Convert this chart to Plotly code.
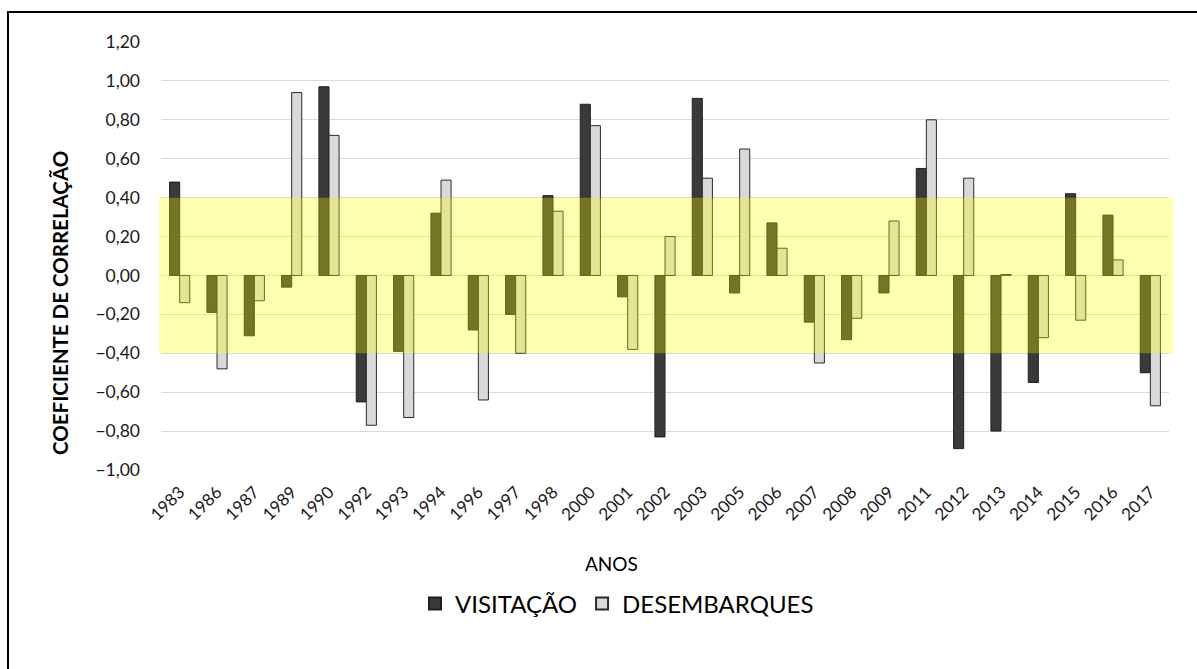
import plotly.graph_objects as go

anos = ["1983", "1986", "1987", "1989", "1990", "1992", "1993", "1994", "1996",
        "1997", "1998", "2000", "2001", "2002", "2003", "2005", "2006", "2007",
        "2008", "2009", "2011", "2012", "2013", "2014", "2015", "2016", "2017"]

visitacao = [0.48, -0.19, -0.31, -0.06, 0.97, -0.65, -0.39, 0.32, -0.28,
             -0.20, 0.41, 0.88, -0.11, -0.83, 0.91, -0.09, 0.27, -0.24,
             -0.33, -0.09, 0.55, -0.89, -0.80, -0.55, 0.42, 0.31, -0.50]
desembarques = [-0.14, -0.48, -0.13, 0.94, 0.72, -0.77, -0.73, 0.49, -0.64,
                -0.40, 0.33, 0.77, -0.38, 0.20, 0.50, 0.65, 0.14, -0.45,
                -0.22, 0.28, 0.80, 0.50, 0.005, -0.32, -0.23, 0.08, -0.67]

y_ticks = [-1.0, -0.8, -0.6, -0.4, -0.2, 0.0, 0.2, 0.4, 0.6, 0.8, 1.0, 1.2]
faixa = (-0.40, 0.40)

W, H = 1197, 669
L, R, T, B = 161, 28, 42, 199
pw, ph = W - L - R, H - T - B


def px_x(v):
    return (v - L) / pw


def px_y(v):
    return (H - B - v) / ph


FONT = "Lato"
TXT = "#1a1a1a"

fig = go.Figure()
fig.add_trace(go.Bar(
    x=anos, y=visitacao, name="VISITAÇÃO",
    marker=dict(color="#3a3a3a", line=dict(color="#1e1e1e", width=1)),
))
fig.add_trace(go.Bar(
    x=anos, y=desembarques, name="DESEMBARQUES",
    marker=dict(color="#d9d9d9", line=dict(color="#2a2a2a", width=1)),
))

# translucent band marking weak correlation
fig.add_shape(type="rect", xref="paper", yref="y",
              x0=px_x(159), x1=px_x(1173), y0=faixa[0], y1=faixa[1],
              fillcolor="rgba(255,255,0,0.30)", line=dict(width=0), layer="above")

# outer frame: top and left edges
fig.add_shape(type="line", xref="paper", yref="paper",
              x0=px_x(7), x1=px_x(W + 5), y0=px_y(12), y1=px_y(12),
              line=dict(color="black", width=2))
fig.add_shape(type="line", xref="paper", yref="paper",
              x0=px_x(8), x1=px_x(8), y0=px_y(12), y1=px_y(H + 5),
              line=dict(color="black", width=2))

fig.add_annotation(text="<b>COEFICIENTE DE CORRELAÇÃO</b>", textangle=-90,
                   xref="paper", yref="paper", x=px_x(60), y=px_y(303),
                   showarrow=False, font=dict(family=FONT, size=20.5, color="black"),
                   xanchor="center", yanchor="middle")
fig.add_annotation(text="ANOS", xref="paper", yref="paper",
                   x=px_x(611), y=px_y(563), showarrow=False,
                   font=dict(family=FONT, size=19, color="black"),
                   xanchor="center", yanchor="middle")

fig.update_layout(
    width=W, height=H,
    margin=dict(l=L, r=R, t=T, b=B),
    paper_bgcolor="white", plot_bgcolor="white",
    barmode="group", bargap=0.46, bargroupgap=0.0,
    separators=",.",
    font=dict(family=FONT, color=TXT),
    legend=dict(orientation="h", x=px_x(617), y=px_y(604),
                xanchor="center", yanchor="middle",
                font=dict(family=FONT, size=24, color="black"),
                itemsizing="constant", bgcolor="rgba(0,0,0,0)"),
    xaxis=dict(type="category", tickangle=-45, showgrid=False, showline=False,
               ticks="", tickfont=dict(family=FONT, size=17, color=TXT),
               ticklabelstandoff=8),
    yaxis=dict(range=[-1.0, 1.2], tickvals=y_ticks, tickformat=".2f",
               showgrid=True, gridcolor="#d9d9d9", gridwidth=1,
               zeroline=False, showline=False, ticks="",
               tickfont=dict(family=FONT, size=17.5, color=TXT),
               ticklabelstandoff=20),
)

fig.write_html("out.html")
